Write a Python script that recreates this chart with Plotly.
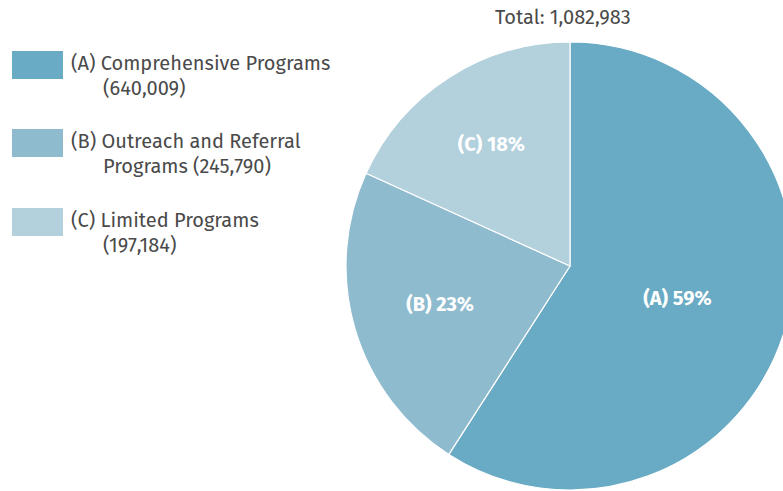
import plotly.graph_objects as go

letters = ["(A)", "(B)", "(C)"]
legend_lines = [
    ["(A) Comprehensive Programs", "(640,009)"],
    ["(B) Outreach and Referral", "Programs (245,790)"],
    ["(C) Limited Programs", "(197,184)"],
]
values = [640009, 245790, 197184]
colors = ["#69aac4", "#8fbbcf", "#b3d0dd"]
total_label = "Total: 1,082,983"

W, H = 795, 491
FONT = "Fira Sans, Noto Sans, sans-serif"
TXT = "#4a4a4a"

fig = go.Figure()
fig.add_trace(go.Pie(
    labels=letters,
    values=values,
    sort=False,
    direction="clockwise",
    rotation=0,
    marker=dict(colors=colors, line=dict(color="white", width=1.2)),
    texttemplate="<b>%{label} %{percent:.0%}</b>",
    textposition="inside",
    insidetextorientation="horizontal",
    textfont=dict(color="white", size=20, family=FONT),
    hoverinfo="label+value+percent",
    domain=dict(x=[345 / W, 1.0], y=[1 / H, 449 / H]),
    showlegend=False,
))

shapes = []
annotations = []
sw_tops = [51, 129, 208]
for i, (lines, col) in enumerate(zip(legend_lines, colors)):
    top = sw_tops[i]
    shapes.append(dict(type="rect", xref="paper", yref="paper",
                       x0=12 / W, x1=63 / W, y0=1 - (top + 28) / H, y1=1 - top / H,
                       fillcolor=col, line=dict(width=0)))
    annotations.append(dict(xref="paper", yref="paper", x=69 / W, y=1 - (top + 12) / H,
                            xanchor="left", yanchor="middle", showarrow=False,
                            text=lines[0], font=dict(size=20, color=TXT, family=FONT)))
    annotations.append(dict(xref="paper", yref="paper", x=101 / W, y=1 - (top + 37) / H,
                            xanchor="left", yanchor="middle", showarrow=False,
                            text=lines[1], font=dict(size=20, color=TXT, family=FONT)))

annotations.append(dict(xref="paper", yref="paper", x=563 / W, y=1 - 17 / H,
                        xanchor="center", yanchor="middle", showarrow=False,
                        text=total_label, font=dict(size=20, color=TXT, family=FONT)))

fig.update_layout(
    width=W, height=H,
    margin=dict(l=0, r=0, t=0, b=0),
    paper_bgcolor="white",
    plot_bgcolor="white",
    shapes=shapes,
    annotations=annotations,
)

fig.write_html("out.html", config={"displayModeBar": False},
               post_script="document.body.style.margin='0';document.body.style.overflow='hidden';")
